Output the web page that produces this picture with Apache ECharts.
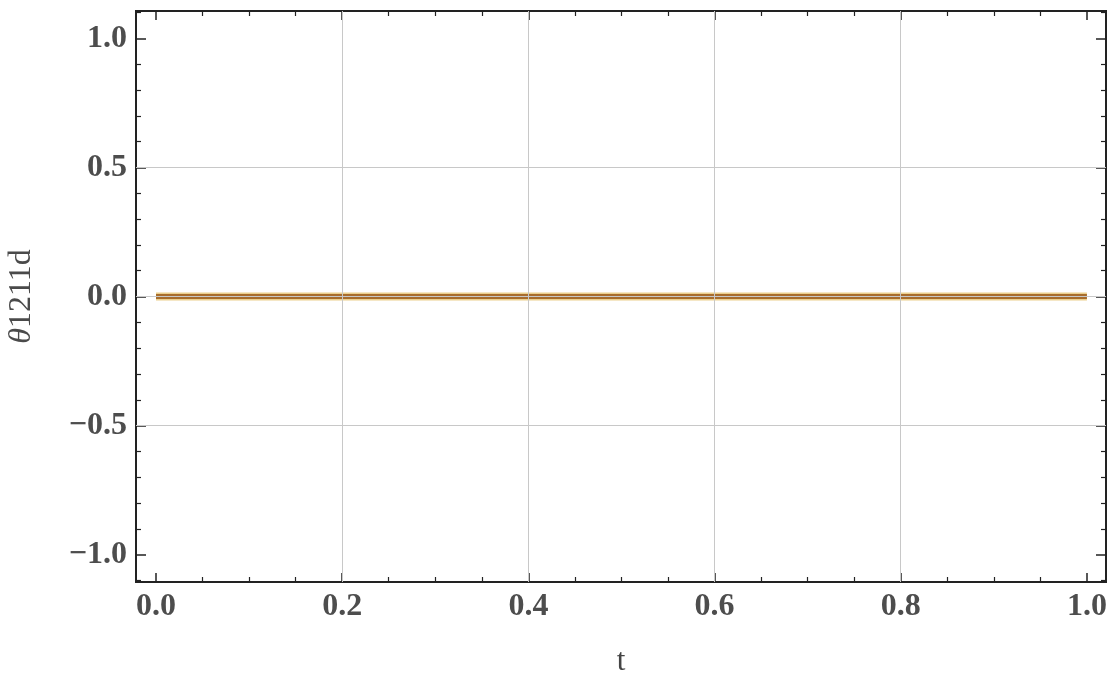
<!DOCTYPE html>
<html>
<head>
<meta charset="utf-8">
<script src="https://cdn.jsdelivr.net/npm/echarts@6/dist/echarts.min.js"></script>
<style>html,body{margin:0;padding:0;background:#fff}#c{width:1112px;height:677px}</style>
</head>
<body>
<div id="c"></div>
<script>
// ---- data ----
var tValues = [0, 0.25, 0.5, 0.75, 1.0];
var thetaValues = [0, 0, 0, 0, 0];
var xTicks = [0, 0.2, 0.4, 0.6, 0.8, 1.0];
var xTickLabels = ['0.0', '0.2', '0.4', '0.6', '0.8', '1.0'];
var xMinorTicks = [0.05, 0.1, 0.15, 0.25, 0.3, 0.35, 0.45, 0.5, 0.55, 0.65, 0.7, 0.75, 0.85, 0.9, 0.95];
var yTicks = [-1.0, -0.5, 0, 0.5, 1.0];
var yTickLabels = ['\u22121.0', '\u22120.5', '0.0', '0.5', '1.0'];
var yMinorTicks = [-1.1, -0.9, -0.8, -0.7, -0.6, -0.4, -0.3, -0.2, -0.1, 0.1, 0.2, 0.3, 0.4, 0.6, 0.7, 0.8, 0.9, 1.1];
var xGrid = [0.2, 0.4, 0.6, 0.8];
var yGrid = [-0.5, 0, 0.5];
var xName = 't';
var yNameSymbol = '\u03b8';
var yNameRest = '1211d';

var xMin = -0.0215, xMax = 1.0205, yMin = -1.106, yMax = 1.106;
var serif = '"Liberation Serif", "DejaVu Serif", serif';
var labelColor = '#4d4d4d';
var frameColor = '#222';

function labelMap(ticks, labels) {
  return function (v) {
    for (var i = 0; i < ticks.length; i++) if (Math.abs(ticks[i] - v) < 1e-9) return labels[i];
    return '';
  };
}

function xAx(opt) {
  return Object.assign({
    type: 'value', min: xMin, max: xMax,
    axisLine: { show: true, onZero: false, lineStyle: { color: frameColor, width: 2 } },
    splitLine: { show: false },
    axisLabel: { show: false },
    axisTick: { show: false }
  }, opt);
}
function yAx(opt) {
  return Object.assign({
    type: 'value', min: yMin, max: yMax,
    axisLine: { show: true, onZero: false, lineStyle: { color: frameColor, width: 2 } },
    splitLine: { show: false },
    axisLabel: { show: false },
    axisTick: { show: false }
  }, opt);
}

var chart = echarts.init(document.getElementById('c'), null, { renderer: 'canvas' });
chart.setOption({
  backgroundColor: '#ffffff',
  animation: false,
  grid: { left: 136, top: 11, right: 6, bottom: 95, containLabel: false, outerBoundsMode: 'none' },
  xAxis: [
    xAx({
      position: 'bottom',
      name: xName, nameLocation: 'middle', nameGap: 64,
      nameTextStyle: { fontFamily: serif, fontSize: 31, color: '#444' },
      axisTick: { show: true, inside: true, length: 9, customValues: xTicks, lineStyle: { color: frameColor, width: 1.5 } },
      axisLabel: { show: true, customValues: xTicks, margin: 9, formatter: labelMap(xTicks, xTickLabels),
        fontFamily: serif, fontWeight: 'bold', fontSize: 32, color: labelColor }
    }),
    xAx({ position: 'bottom', axisTick: { show: true, inside: true, length: 5, customValues: xMinorTicks, lineStyle: { color: frameColor, width: 1.2 } } }),
    xAx({ position: 'top', axisTick: { show: true, inside: true, length: 9, customValues: xTicks, lineStyle: { color: frameColor, width: 1.5 } } }),
    xAx({ position: 'top', axisTick: { show: true, inside: true, length: 5, customValues: xMinorTicks, lineStyle: { color: frameColor, width: 1.2 } } })
  ],
  yAxis: [
    yAx({
      position: 'left',
      name: '{i|' + yNameSymbol + '}' + yNameRest, nameLocation: 'middle', nameGap: 98, nameRotate: 90,
      nameTextStyle: { fontFamily: serif, fontSize: 32, color: '#4a4a4a',
        rich: { i: { fontFamily: serif, fontSize: 32, fontStyle: 'italic', color: '#4a4a4a' } } },
      axisTick: { show: true, inside: true, length: 10, customValues: yTicks, lineStyle: { color: frameColor, width: 1.5 } },
      axisLabel: { show: true, customValues: yTicks, margin: 9, formatter: labelMap(yTicks, yTickLabels),
        fontFamily: serif, fontWeight: 'bold', fontSize: 32, color: labelColor }
    }),
    yAx({ position: 'left', axisTick: { show: true, inside: true, length: 5, customValues: yMinorTicks, lineStyle: { color: frameColor, width: 1.2 } } }),
    yAx({ position: 'right', axisTick: { show: true, inside: true, length: 10, customValues: yTicks, lineStyle: { color: frameColor, width: 1.5 } } }),
    yAx({ position: 'right', axisTick: { show: true, inside: true, length: 5, customValues: yMinorTicks, lineStyle: { color: frameColor, width: 1.2 } } })
  ],
  series: [
    {
      type: 'line', xAxisIndex: 0, yAxisIndex: 0, silent: true, symbol: 'none', z: 1,
      data: [],
      markLine: {
        silent: true, symbol: 'none', label: { show: false },
        lineStyle: { color: '#c8c8c8', width: 1, type: 'solid' },
        data: xGrid.map(function (v) { return { xAxis: v }; }).concat(yGrid.map(function (v) { return { yAxis: v }; }))
      }
    },
    {
      type: 'line', xAxisIndex: 0, yAxisIndex: 0, symbol: 'none', z: 3,
      lineStyle: { color: '#ecd08e', width: 8 },
      data: tValues.map(function (t, i) { return [t, thetaValues[i]]; })
    },
    {
      type: 'line', xAxisIndex: 0, yAxisIndex: 0, symbol: 'none', z: 4,
      lineStyle: { color: '#a86d2d', width: 5 },
      data: tValues.map(function (t, i) { return [t, thetaValues[i]]; })
    }
  ]
});
</script>
</body>
</html>
